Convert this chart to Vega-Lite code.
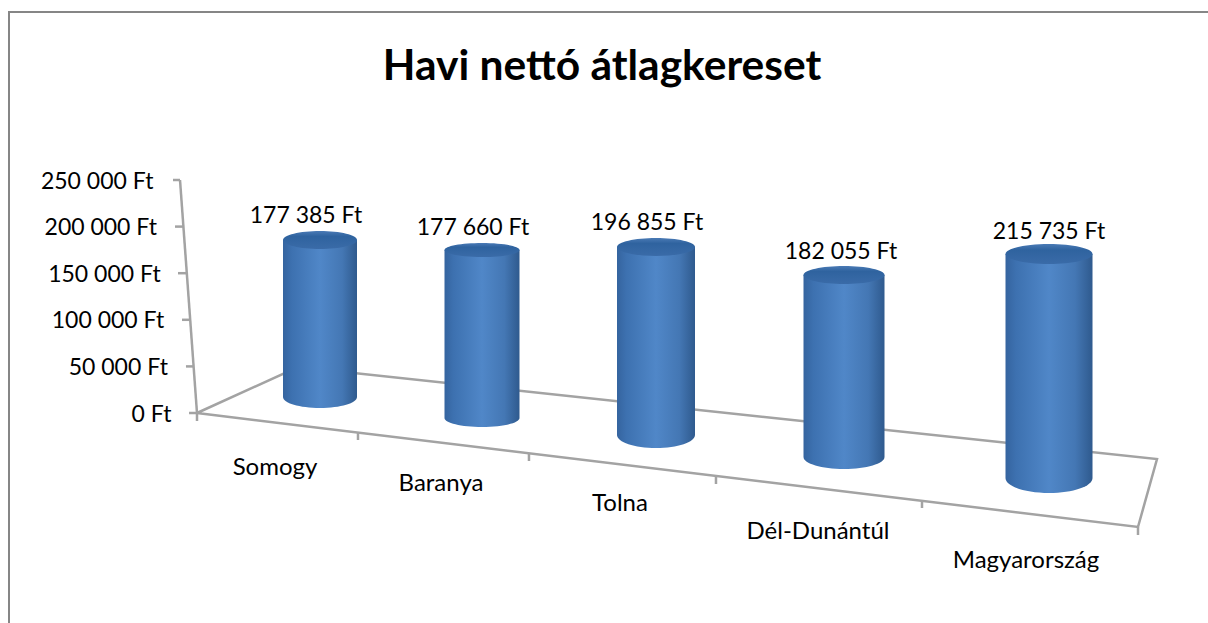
{"$schema":"https://vega.github.io/schema/vega-lite/v6.json","width":1210,"height":620,"autosize":{"type":"none"},"padding":{"left":9,"top":12,"right":-11,"bottom":-9},"background":"white","view":{"stroke":"#868686","strokeWidth":2,"fill":null},"title":{"text":"Havi nettó átlagkereset","font":"Lato","fontWeight":"bold","fontSize":42.5,"color":"#000000","anchor":"middle","dx":-12,"offset":-76},"config":{"text":{"font":"Lato","fontSize":23,"color":"#000000"}},"datasets":{"regions":[{"region":"Somogy","order":1,"value":177385},{"region":"Baranya","order":2,"value":177660},{"region":"Tolna","order":3,"value":196855},{"region":"Dél-Dunántúl","order":4,"value":182055},{"region":"Magyarország","order":5,"value":215735}],"frame":[{"seg":"floor","seq":1,"lateral":0,"ft":0},{"seg":"floor","seq":2,"lateral":10.52,"ft":49356},{"seg":"floor","seq":3,"lateral":100,"ft":-49356},{"seg":"floor","seq":4,"lateral":98.02,"ft":-122317},{"seg":"floor","seq":5,"lateral":0,"ft":0},{"seg":"axis","seq":1,"lateral":-1.77,"ft":250000},{"seg":"axis","seq":2,"lateral":0,"ft":0},{"seg":"y250","seq":1,"lateral":-2.5,"ft":250000},{"seg":"y250","seq":2,"lateral":-1.77,"ft":250000},{"seg":"y200","seq":1,"lateral":-2.29,"ft":200000},{"seg":"y200","seq":2,"lateral":-1.42,"ft":200000},{"seg":"y150","seq":1,"lateral":-1.98,"ft":150000},{"seg":"y150","seq":2,"lateral":-1.06,"ft":150000},{"seg":"y100","seq":1,"lateral":-1.56,"ft":100000},{"seg":"y100","seq":2,"lateral":-0.71,"ft":100000},{"seg":"y50","seq":1,"lateral":-1.15,"ft":50000},{"seg":"y50","seq":2,"lateral":-0.35,"ft":50000},{"seg":"y0","seq":1,"lateral":-0.83,"ft":0},{"seg":"y0","seq":2,"lateral":0,"ft":0},{"seg":"x0","seq":1,"lateral":0,"ft":0},{"seg":"x0","seq":2,"lateral":0,"ft":-8584},{"seg":"x1","seq":1,"lateral":16.77,"ft":-21459},{"seg":"x1","seq":2,"lateral":16.77,"ft":-28970},{"seg":"x2","seq":1,"lateral":34.58,"ft":-42918},{"seg":"x2","seq":2,"lateral":34.58,"ft":-51502},{"seg":"x3","seq":1,"lateral":54.06,"ft":-68669},{"seg":"x3","seq":2,"lateral":54.06,"ft":-76180},{"seg":"x4","seq":1,"lateral":75.52,"ft":-94420},{"seg":"x4","seq":2,"lateral":75.52,"ft":-101931},{"seg":"x5","seq":1,"lateral":98.02,"ft":-122317},{"seg":"x5","seq":2,"lateral":98.02,"ft":-130901}]},"data":{"name":"regions"},"transform":[{"calculate":"replace(format(datum.value,','),regexp(',','g'),' ')+' Ft'","as":"label"}],"resolve":{"scale":{"x":"independent","y":"independent"},"axis":{"y":"independent"}},"layer":[{"data":{"name":"frame"},"mark":{"type":"line","stroke":"#a3a3a3","strokeWidth":2.5,"strokeJoin":"miter"},"encoding":{"x":{"field":"lateral","type":"quantitative","axis":null,"scale":{"domain":[0,100],"range":[188,1148],"nice":false,"zero":false}},"y":{"field":"ft","type":"quantitative","scale":{"domain":[0,250000],"range":[401,168],"nice":false,"zero":false},"axis":{"orient":"left","offset":-162,"values":[0,50000,100000,150000,200000,250000],"grid":false,"ticks":false,"domain":false,"title":null,"labelFont":"Lato","labelFontSize":23,"labelColor":"#000000","labelPadding":{"expr":"18*datum.value/250000"},"labelOffset":1,"labelExpr":"replace(format(datum.value,','),regexp(',','g'),' ')+' Ft'"}},"detail":{"field":"seg"},"order":{"field":"seq"}}},{"transform":[{"filter":"datum.order==1"}],"encoding":{"x":{"field":"order","type":"quantitative","axis":null,"scale":{"domain":[1,2,3,4,5],"range":[311,473,647,835,1040],"padding":0}},"y":{"field":"value","type":"quantitative","axis":null,"scale":{"domain":[0,177385],"range":[385,228],"nice":false,"zero":false}}},"layer":[{"mark":{"type":"bar","size":74,"fill":{"gradient":"linear","x1":0,"x2":1,"y1":0,"y2":0,"stops":[{"offset":0,"color":"#35649f"},{"offset":0.12,"color":"#3d71b0"},{"offset":0.5,"color":"#5087c8"},{"offset":0.8,"color":"#4477b4"},{"offset":1,"color":"#2f5a8e"}]}},"encoding":{"y2":{"datum":0}}},{"mark":{"type":"point","filled":true,"opacity":1,"size":5476,"shape":"M-1,0 A1,0.297 0 0,0 1,0 Z","fill":{"gradient":"linear","x1":0,"x2":1,"y1":0,"y2":0,"stops":[{"offset":0,"color":"#35649f"},{"offset":0.12,"color":"#3d71b0"},{"offset":0.5,"color":"#5087c8"},{"offset":0.8,"color":"#4477b4"},{"offset":1,"color":"#2f5a8e"}]}},"encoding":{"y":{"datum":0,"type":"quantitative"}}},{"mark":{"type":"point","filled":true,"opacity":1,"size":5476,"shape":"M-1,0 A1,0.243 0 1,1 1,0 A1,0.243 0 1,1 -1,0 Z","fill":{"gradient":"linear","x1":0,"x2":0,"y1":0,"y2":1,"stops":[{"offset":0,"color":"#4a7ab5"},{"offset":0.3,"color":"#2f639f"},{"offset":1,"color":"#3a6ba8"}]}}},{"mark":{"type":"text","dx":-14,"dy":-24},"encoding":{"text":{"field":"label"}}},{"mark":{"type":"text","fontSize":24,"dx":-45,"dy":71},"encoding":{"y":{"datum":0,"type":"quantitative"},"text":{"field":"region"}}}]},{"transform":[{"filter":"datum.order==2"}],"encoding":{"x":{"field":"order","type":"quantitative","axis":null,"scale":{"domain":[1,2,3,4,5],"range":[311,473,647,835,1040],"padding":0}},"y":{"field":"value","type":"quantitative","axis":null,"scale":{"domain":[0,177660],"range":[406,238],"nice":false,"zero":false}}},"layer":[{"mark":{"type":"bar","size":75,"fill":{"gradient":"linear","x1":0,"x2":1,"y1":0,"y2":0,"stops":[{"offset":0,"color":"#35649f"},{"offset":0.12,"color":"#3d71b0"},{"offset":0.5,"color":"#5087c8"},{"offset":0.8,"color":"#4477b4"},{"offset":1,"color":"#2f5a8e"}]}},"encoding":{"y2":{"datum":0}}},{"mark":{"type":"point","filled":true,"opacity":1,"size":5625,"shape":"M-1,0 A1,0.24 0 0,0 1,0 Z","fill":{"gradient":"linear","x1":0,"x2":1,"y1":0,"y2":0,"stops":[{"offset":0,"color":"#35649f"},{"offset":0.12,"color":"#3d71b0"},{"offset":0.5,"color":"#5087c8"},{"offset":0.8,"color":"#4477b4"},{"offset":1,"color":"#2f5a8e"}]}},"encoding":{"y":{"datum":0,"type":"quantitative"}}},{"mark":{"type":"point","filled":true,"opacity":1,"size":5625,"shape":"M-1,0 A1,0.187 0 1,1 1,0 A1,0.187 0 1,1 -1,0 Z","fill":{"gradient":"linear","x1":0,"x2":0,"y1":0,"y2":1,"stops":[{"offset":0,"color":"#4a7ab5"},{"offset":0.3,"color":"#2f639f"},{"offset":1,"color":"#3a6ba8"}]}}},{"mark":{"type":"text","dx":-9,"dy":-22},"encoding":{"text":{"field":"label"}}},{"mark":{"type":"text","fontSize":24,"dx":-41,"dy":66},"encoding":{"y":{"datum":0,"type":"quantitative"},"text":{"field":"region"}}}]},{"transform":[{"filter":"datum.order==3"}],"encoding":{"x":{"field":"order","type":"quantitative","axis":null,"scale":{"domain":[1,2,3,4,5],"range":[311,473,647,835,1040],"padding":0}},"y":{"field":"value","type":"quantitative","axis":null,"scale":{"domain":[0,196855],"range":[423,235],"nice":false,"zero":false}}},"layer":[{"mark":{"type":"bar","size":78,"fill":{"gradient":"linear","x1":0,"x2":1,"y1":0,"y2":0,"stops":[{"offset":0,"color":"#35649f"},{"offset":0.12,"color":"#3d71b0"},{"offset":0.5,"color":"#5087c8"},{"offset":0.8,"color":"#4477b4"},{"offset":1,"color":"#2f5a8e"}]}},"encoding":{"y2":{"datum":0}}},{"mark":{"type":"point","filled":true,"opacity":1,"size":6084,"shape":"M-1,0 A1,0.333 0 0,0 1,0 Z","fill":{"gradient":"linear","x1":0,"x2":1,"y1":0,"y2":0,"stops":[{"offset":0,"color":"#35649f"},{"offset":0.12,"color":"#3d71b0"},{"offset":0.5,"color":"#5087c8"},{"offset":0.8,"color":"#4477b4"},{"offset":1,"color":"#2f5a8e"}]}},"encoding":{"y":{"datum":0,"type":"quantitative"}}},{"mark":{"type":"point","filled":true,"opacity":1,"size":6084,"shape":"M-1,0 A1,0.23 0 1,1 1,0 A1,0.23 0 1,1 -1,0 Z","fill":{"gradient":"linear","x1":0,"x2":0,"y1":0,"y2":1,"stops":[{"offset":0,"color":"#4a7ab5"},{"offset":0.3,"color":"#2f639f"},{"offset":1,"color":"#3a6ba8"}]}}},{"mark":{"type":"text","dx":-9,"dy":-24},"encoding":{"text":{"field":"label"}}},{"mark":{"type":"text","fontSize":24,"dx":-36,"dy":69},"encoding":{"y":{"datum":0,"type":"quantitative"},"text":{"field":"region"}}}]},{"transform":[{"filter":"datum.order==4"}],"encoding":{"x":{"field":"order","type":"quantitative","axis":null,"scale":{"domain":[1,2,3,4,5],"range":[311,473,647,835,1040],"padding":0}},"y":{"field":"value","type":"quantitative","axis":null,"scale":{"domain":[0,182055],"range":[445,263],"nice":false,"zero":false}}},"layer":[{"mark":{"type":"bar","size":81,"fill":{"gradient":"linear","x1":0,"x2":1,"y1":0,"y2":0,"stops":[{"offset":0,"color":"#35649f"},{"offset":0.12,"color":"#3d71b0"},{"offset":0.5,"color":"#5087c8"},{"offset":0.8,"color":"#4477b4"},{"offset":1,"color":"#2f5a8e"}]}},"encoding":{"y2":{"datum":0}}},{"mark":{"type":"point","filled":true,"opacity":1,"size":6561,"shape":"M-1,0 A1,0.296 0 0,0 1,0 Z","fill":{"gradient":"linear","x1":0,"x2":1,"y1":0,"y2":0,"stops":[{"offset":0,"color":"#35649f"},{"offset":0.12,"color":"#3d71b0"},{"offset":0.5,"color":"#5087c8"},{"offset":0.8,"color":"#4477b4"},{"offset":1,"color":"#2f5a8e"}]}},"encoding":{"y":{"datum":0,"type":"quantitative"}}},{"mark":{"type":"point","filled":true,"opacity":1,"size":6561,"shape":"M-1,0 A1,0.222 0 1,1 1,0 A1,0.222 0 1,1 -1,0 Z","fill":{"gradient":"linear","x1":0,"x2":0,"y1":0,"y2":1,"stops":[{"offset":0,"color":"#4a7ab5"},{"offset":0.3,"color":"#2f639f"},{"offset":1,"color":"#3a6ba8"}]}}},{"mark":{"type":"text","dx":-3,"dy":-23},"encoding":{"text":{"field":"label"}}},{"mark":{"type":"text","fontSize":24,"dx":-26,"dy":75},"encoding":{"y":{"datum":0,"type":"quantitative"},"text":{"field":"region"}}}]},{"transform":[{"filter":"datum.order==5"}],"encoding":{"x":{"field":"order","type":"quantitative","axis":null,"scale":{"domain":[1,2,3,4,5],"range":[311,473,647,835,1040],"padding":0}},"y":{"field":"value","type":"quantitative","axis":null,"scale":{"domain":[0,215735],"range":[466,242],"nice":false,"zero":false}}},"layer":[{"mark":{"type":"bar","size":87,"fill":{"gradient":"linear","x1":0,"x2":1,"y1":0,"y2":0,"stops":[{"offset":0,"color":"#35649f"},{"offset":0.12,"color":"#3d71b0"},{"offset":0.5,"color":"#5087c8"},{"offset":0.8,"color":"#4477b4"},{"offset":1,"color":"#2f5a8e"}]}},"encoding":{"y2":{"datum":0}}},{"mark":{"type":"point","filled":true,"opacity":1,"size":7569,"shape":"M-1,0 A1,0.345 0 0,0 1,0 Z","fill":{"gradient":"linear","x1":0,"x2":1,"y1":0,"y2":0,"stops":[{"offset":0,"color":"#35649f"},{"offset":0.12,"color":"#3d71b0"},{"offset":0.5,"color":"#5087c8"},{"offset":0.8,"color":"#4477b4"},{"offset":1,"color":"#2f5a8e"}]}},"encoding":{"y":{"datum":0,"type":"quantitative"}}},{"mark":{"type":"point","filled":true,"opacity":1,"size":7569,"shape":"M-1,0 A1,0.23 0 1,1 1,0 A1,0.23 0 1,1 -1,0 Z","fill":{"gradient":"linear","x1":0,"x2":0,"y1":0,"y2":1,"stops":[{"offset":0,"color":"#4a7ab5"},{"offset":0.3,"color":"#2f639f"},{"offset":1,"color":"#3a6ba8"}]}}},{"mark":{"type":"text","dx":0,"dy":-22},"encoding":{"text":{"field":"label"}}},{"mark":{"type":"text","fontSize":24,"dx":-23,"dy":83},"encoding":{"y":{"datum":0,"type":"quantitative"},"text":{"field":"region"}}}]}]}
